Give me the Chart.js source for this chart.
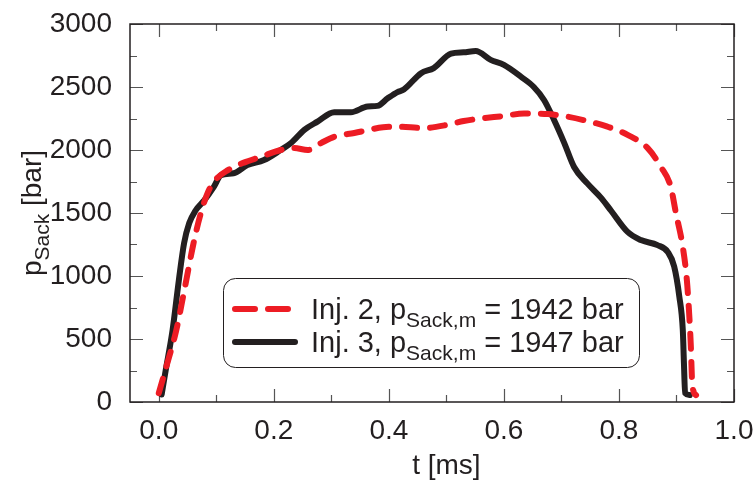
<!DOCTYPE html>
<html>
<head>
    <style>
        body { margin: 0; background: #fff; }
        #wrap { width: 755px; height: 484px; }
    </style>
    <script src="https://cdn.jsdelivr.net/npm/chart.js@4"></script>
</head>
<body>
    <div id="wrap"><canvas id="myChart" width="755" height="484"></canvas></div>
    <script>
        // Inj. 2 (red, dashed)
        var tInj2 = [0.0, 0.015, 0.03, 0.045, 0.06, 0.072, 0.085, 0.1, 0.12, 0.148, 0.177, 0.212, 0.235, 0.259, 0.282, 0.305, 0.34, 0.39, 0.415, 0.461, 0.502, 0.53, 0.56, 0.6, 0.635, 0.676, 0.71, 0.745, 0.78, 0.815, 0.85, 0.873, 0.89, 0.899, 0.911, 0.918, 0.922, 0.925, 0.927, 0.93, 0.934];
        var pInj2 = [70, 310, 560, 900, 1250, 1480, 1660, 1770, 1840, 1900, 1945, 2000, 2015, 2000, 2055, 2105, 2135, 2180, 2185, 2175, 2200, 2230, 2250, 2270, 2290, 2285, 2265, 2230, 2185, 2120, 2015, 1865, 1710, 1500, 1230, 970, 705, 440, 175, 80, 55];
        // Inj. 3 (black, solid)
        var tInj3 = [0.005, 0.012, 0.024, 0.035, 0.044, 0.053, 0.064, 0.079, 0.096, 0.108, 0.13, 0.154, 0.183, 0.212, 0.23, 0.253, 0.276, 0.305, 0.334, 0.363, 0.38, 0.398, 0.415, 0.426, 0.456, 0.478, 0.508, 0.53, 0.551, 0.577, 0.6, 0.63, 0.652, 0.67, 0.687, 0.705, 0.722, 0.745, 0.769, 0.786, 0.815, 0.838, 0.867, 0.885, 0.896, 0.905, 0.911, 0.913, 0.915, 0.923];
        var pInj3 = [60, 250, 570, 970, 1260, 1420, 1520, 1600, 1710, 1800, 1815, 1880, 1920, 2000, 2055, 2160, 2225, 2300, 2300, 2345, 2350, 2410, 2460, 2480, 2610, 2650, 2765, 2775, 2785, 2715, 2675, 2580, 2500, 2395, 2240, 2055, 1865, 1735, 1620, 1520, 1350, 1285, 1245, 1190, 1075, 835, 570, 305, 70, 55];

        var xTicks = [0, 0.1, 0.2, 0.3, 0.4, 0.5, 0.6, 0.7, 0.8, 0.9, 1.0];
        var xLabels = ['0.0', '', '0.2', '', '0.4', '', '0.6', '', '0.8', '', '1.0'];
        var yTicks = [0, 250, 500, 750, 1000, 1250, 1500, 1750, 2000, 2250, 2500, 2750, 3000];
        var yLabels = ['0', '', '500', '', '1000', '', '1500', '', '2000', '', '2500', '', '3000'];

        var legendNames = ['Inj. 2, p', 'Inj. 3, p'];
        var legendMeans = ['1942', '1947'];

        var RED = '#ed1c24';
        var BLACK = '#231f20';
        var FONT = "'Liberation Sans', Arial, sans-serif";

        function xy(ts, ps) {
            return ts.map(function(t, i) { return { x: t, y: ps[i] }; });
        }

        // frame + inward ticks on all four sides
        var framePlugin = {
            id: 'frame',
            beforeDatasetsDraw: function(chart) {
                var ctx = chart.ctx, a = chart.chartArea;
                var xs = chart.scales.x, ys = chart.scales.y;
                ctx.save();
                ctx.strokeStyle = '#555';
                ctx.lineWidth = 1.2;
                xTicks.forEach(function(v, i) {
                    var x = Math.round(xs.getPixelForValue(v)) + 0.5;
                    var len = xLabels[i] ? 13 : 7;
                    ctx.beginPath();
                    ctx.moveTo(x, a.bottom); ctx.lineTo(x, a.bottom - len);
                    ctx.moveTo(x, a.top); ctx.lineTo(x, a.top + len);
                    ctx.stroke();
                });
                yTicks.forEach(function(v, i) {
                    var y = Math.round(ys.getPixelForValue(v)) + 0.5;
                    var len = yLabels[i] ? 13 : 7;
                    ctx.beginPath();
                    ctx.moveTo(a.left, y); ctx.lineTo(a.left + len, y);
                    ctx.moveTo(a.right, y); ctx.lineTo(a.right - len, y);
                    ctx.stroke();
                });
                ctx.strokeStyle = BLACK;
                ctx.lineWidth = 1.5;
                ctx.strokeRect(a.left, a.top, a.right - a.left, a.bottom - a.top);
                ctx.restore();
            }
        };

        // text with a lowered, smaller subscript; returns end x
        function subText(ctx, x, y, main, sub, rest, size, subSize) {
            ctx.font = size + 'px ' + FONT;
            ctx.fillText(main, x, y);
            x += ctx.measureText(main).width;
            ctx.font = subSize + 'px ' + FONT;
            ctx.fillText(sub, x, y + size * 0.28);
            x += ctx.measureText(sub).width;
            ctx.font = size + 'px ' + FONT;
            ctx.fillText(rest, x, y);
            return x + ctx.measureText(rest).width;
        }

        var annotatePlugin = {
            id: 'annotate',
            afterDatasetsDraw: function(chart) {
                var ctx = chart.ctx;
                ctx.save();
                // legend box
                var bx = 223, by = 278, bw = 416, bh = 89, r = 12;
                ctx.beginPath();
                ctx.roundRect(bx + 0.5, by + 0.5, bw, bh, r);
                ctx.fillStyle = '#fff';
                ctx.fill();
                ctx.strokeStyle = BLACK;
                ctx.lineWidth = 1;
                ctx.stroke();

                var rows = [309, 342];
                chart.data.datasets.forEach(function(ds, i) {
                    ctx.beginPath();
                    ctx.strokeStyle = ds.borderColor;
                    ctx.lineWidth = ds.borderWidth;
                    ctx.lineCap = 'round';
                    ctx.setLineDash(ds.borderDash ? [20, 13] : []);
                    ctx.moveTo(235, rows[i]);
                    ctx.lineTo(295, rows[i]);
                    ctx.stroke();
                    ctx.setLineDash([]);
                    ctx.fillStyle = BLACK;
                    ctx.textBaseline = 'alphabetic';
                    ctx.textAlign = 'left';
                    subText(ctx, 311, rows[i] + 10, legendNames[i], 'Sack,m', ' = ' + legendMeans[i] + ' bar', 29, 21);
                });

                // x axis title
                ctx.fillStyle = BLACK;
                ctx.font = '28px ' + FONT;
                ctx.textAlign = 'center';
                ctx.textBaseline = 'middle';
                ctx.fillText('t [ms]', chart.scales.x.getPixelForValue(0.5), 466);

                // y axis title, rotated, with subscript
                ctx.translate(41, 213);
                ctx.rotate(-Math.PI / 2);
                ctx.textAlign = 'left';
                ctx.textBaseline = 'alphabetic';
                ctx.font = '28px ' + FONT;
                var w1 = ctx.measureText('p').width;
                var w3 = ctx.measureText(' [bar]').width;
                ctx.font = '21px ' + FONT;
                var w2 = ctx.measureText('Sack').width;
                subText(ctx, -(w1 + w2 + w3) / 2, 0, 'p', 'Sack', ' [bar]', 28, 21);
                ctx.restore();
            }
        };

        var ctx = document.getElementById('myChart').getContext('2d');
        var myChart = new Chart(ctx, {
            type: 'line',
            data: {
                datasets: [{
                    label: 'Inj. 2',
                    data: xy(tInj2, pInj2),
                    borderColor: RED,
                    borderWidth: 6,
                    borderDash: [15, 13],
                    borderCapStyle: 'round',
                    pointRadius: 0,
                    fill: false,
                    cubicInterpolationMode: 'monotone'
                }, {
                    label: 'Inj. 3',
                    data: xy(tInj3, pInj3),
                    borderColor: BLACK,
                    borderWidth: 6,
                    borderCapStyle: 'round',
                    borderJoinStyle: 'round',
                    pointRadius: 0,
                    fill: false,
                    cubicInterpolationMode: 'monotone'
                }]
            },
            options: {
                responsive: false,
                animation: false,
                layout: { padding: { top: 24, right: 21, left: 0, bottom: 0 } },
                plugins: {
                    legend: { display: false },
                    tooltip: { enabled: false }
                },
                scales: {
                    x: {
                        type: 'linear',
                        min: -0.05,
                        max: 1.0,
                        grid: { display: false },
                        border: { display: false },
                        afterBuildTicks: function(s) { s.ticks = xTicks.map(function(v) { return { value: v }; }); },
                        afterFit: function(s) { s.height = 82; s.paddingLeft = 0; s.paddingRight = 0; },
                        ticks: {
                            autoSkip: false,
                            maxRotation: 0,
                            padding: 4,
                            color: BLACK,
                            font: { family: FONT, size: 28 },
                            callback: function(v, i) { return xLabels[i]; }
                        }
                    },
                    y: {
                        min: 0,
                        max: 3000,
                        grid: { display: false },
                        border: { display: false },
                        afterBuildTicks: function(s) { s.ticks = yTicks.map(function(v) { return { value: v }; }); },
                        afterFit: function(s) { s.width = 130; s.paddingTop = 0; s.paddingBottom = 0; },
                        ticks: {
                            autoSkip: false,
                            padding: 10,
                            color: BLACK,
                            font: { family: FONT, size: 28 },
                            callback: function(v, i) { return yLabels[i]; }
                        }
                    }
                }
            },
            plugins: [framePlugin, annotatePlugin]
        });
    </script>
</body>
</html>
